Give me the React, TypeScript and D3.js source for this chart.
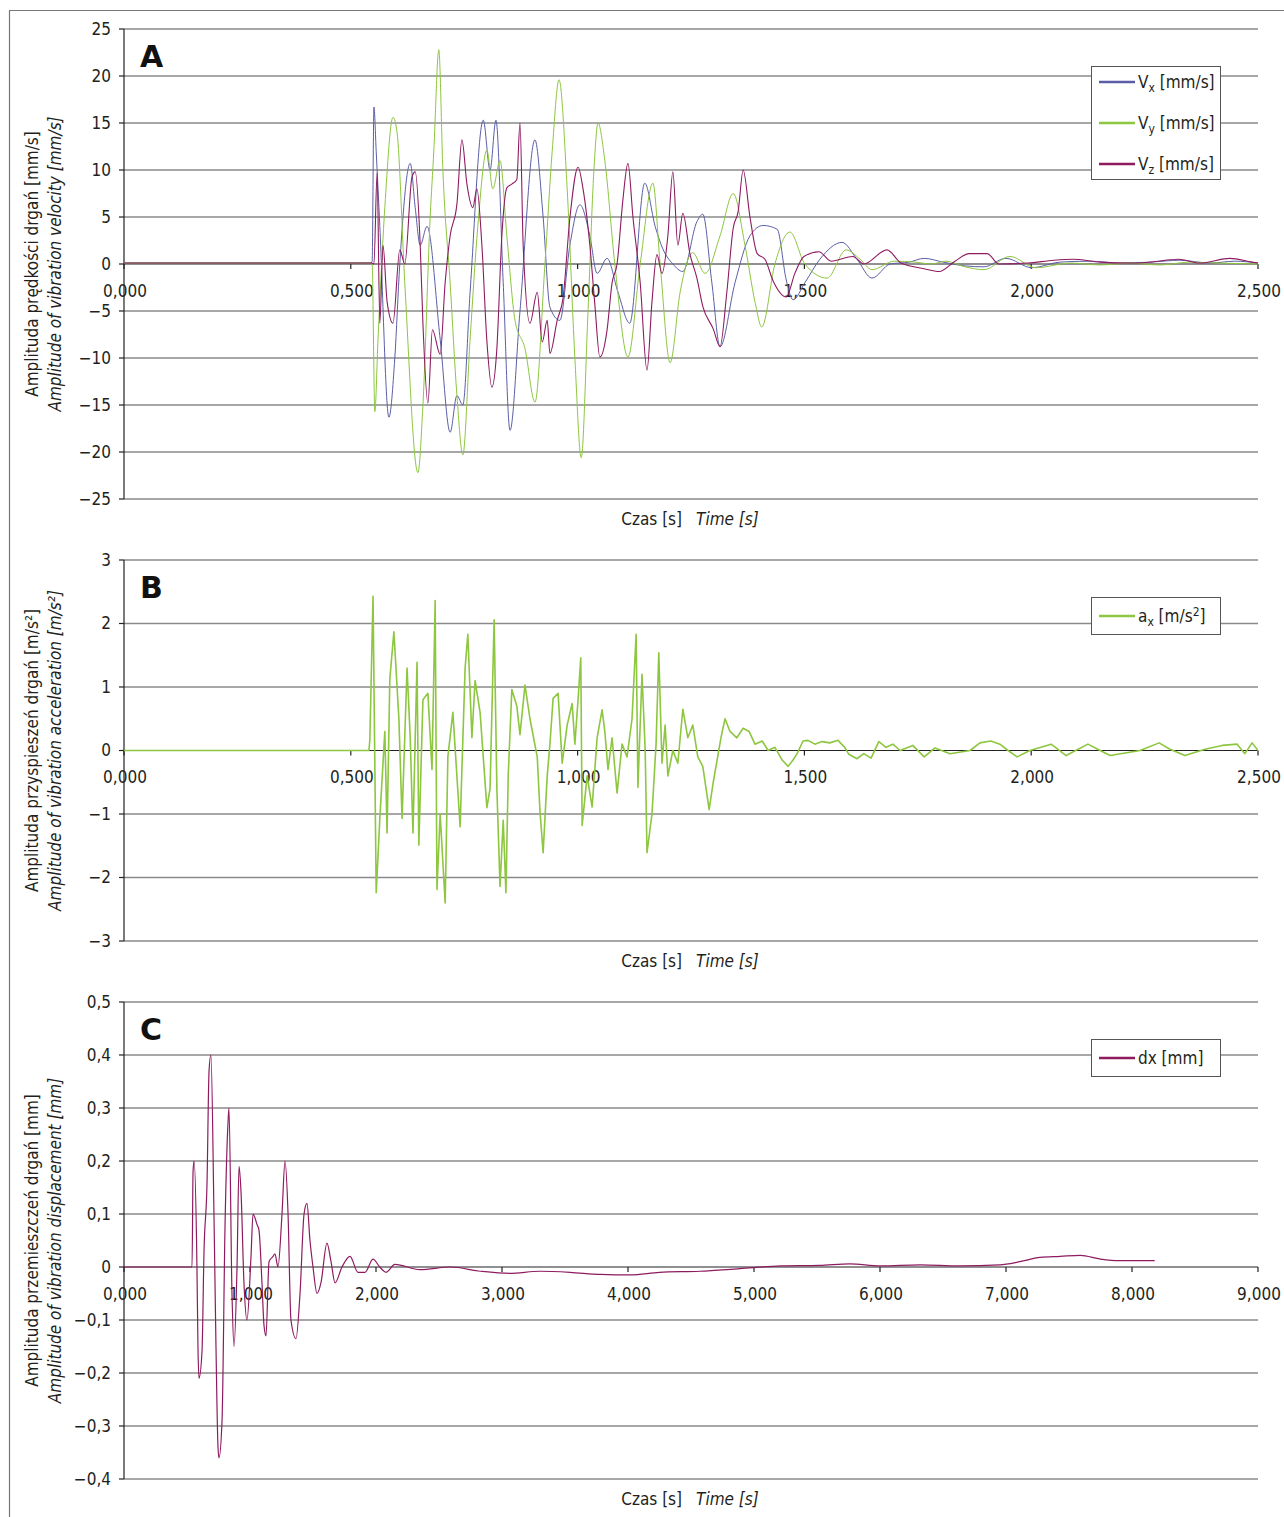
import React from 'react';
import * as d3 from 'd3';

// ---------- DATA ----------
// Panel A: velocity [mm/s], time [s]
const vxTime = [0, 0.54, 0.547, 0.551, 0.556, 0.564, 0.584, 0.597, 0.608, 0.631, 0.642, 0.653, 0.668, 0.697, 0.719, 0.734, 0.747, 0.763, 0.792, 0.807, 0.82, 0.836, 0.851, 0.873, 0.906, 0.924, 0.939, 0.961, 0.983, 1.005, 1.027, 1.043, 1.065, 1.089, 1.115, 1.148, 1.171, 1.188, 1.21, 1.232, 1.263, 1.276, 1.296, 1.314, 1.347, 1.38, 1.409, 1.44, 1.46, 1.475, 1.501, 1.534, 1.583, 1.616, 1.649, 1.689, 1.731, 1.764, 1.806, 1.854, 1.896, 1.944, 2.002, 2.063, 2.13, 2.196, 2.262, 2.328, 2.394, 2.449, 2.5];
const vxValue = [0.1, 0.1, 0.2, 16.7, 12, 4, -16.3, -10, 0, 10.7, 6, 2, 4, -8, -17.9, -14, -15, -3, 15.3, 10, 15.3, -2, -17.7, -5, 13.2, 5, -4.6, -6, 2, 6.3, 3, -1, 0.6, -3, -6.3, 8.6, 4, 1.6, 0, -0.8, 4.5, 5.3, -2, -8.8, -2, 3, 4.1, 3.7, -1.7, -3.8, -2, 0.5, 2.3, 0.5, -1.5, 0, 0.2, 0.6, 0.2, -0.2, -0.3, 0.6, -0.4, 0.2, 0.3, 0.1, 0.2, 0.4, 0.1, 0.3, 0.1];

const vyTime = [0, 0.54, 0.547, 0.553, 0.56, 0.575, 0.593, 0.602, 0.619, 0.648, 0.659, 0.675, 0.683, 0.694, 0.703, 0.719, 0.734, 0.747, 0.763, 0.78, 0.8, 0.813, 0.829, 0.844, 0.862, 0.884, 0.906, 0.928, 0.944, 0.959, 0.977, 0.994, 1.008, 1.023, 1.036, 1.045, 1.06, 1.082, 1.111, 1.138, 1.166, 1.182, 1.204, 1.226, 1.254, 1.281, 1.314, 1.343, 1.369, 1.391, 1.406, 1.435, 1.468, 1.501, 1.55, 1.592, 1.623, 1.649, 1.698, 1.744, 1.779, 1.812, 1.854, 1.896, 1.953, 2.011, 2.086, 2.152, 2.218, 2.284, 2.35, 2.416, 2.5];
const vyValue = [0.1, 0.1, 0, -15.7, -8, 6, 15.6, 14, -2, -22.2, -15, 5, 12, 22.8, 10, -2, -14, -20.3, -8, 4, 12.1, 8, 11, 3, -6, -9, -14.7, 0, 12, 19.6, 8, -10, -20.6, -5, 10, 15, 11, 0, -9.9, 0, 8.6, 0, -10.5, -3, 1.2, -1, 3, 7.5, 2, -4, -6.7, 0, 3.4, 0, -1.5, 1.5, 0.5, -0.6, 0.3, 0.2, 0, 0.3, -0.3, -0.6, 0.8, -0.4, 0.1, -0.1, 0.1, -0.1, 0.2, 0.1, 0];

const vzTime = [0, 0.545, 0.551, 0.558, 0.564, 0.571, 0.58, 0.593, 0.608, 0.619, 0.635, 0.642, 0.653, 0.659, 0.67, 0.68, 0.697, 0.708, 0.719, 0.734, 0.745, 0.756, 0.769, 0.778, 0.789, 0.8, 0.811, 0.822, 0.833, 0.844, 0.855, 0.866, 0.873, 0.88, 0.895, 0.911, 0.922, 0.933, 0.939, 0.955, 0.968, 0.983, 1.001, 1.012, 1.027, 1.038, 1.049, 1.065, 1.076, 1.087, 1.1, 1.111, 1.122, 1.138, 1.153, 1.164, 1.175, 1.186, 1.199, 1.21, 1.221, 1.232, 1.248, 1.263, 1.276, 1.299, 1.314, 1.329, 1.343, 1.354, 1.365, 1.38, 1.396, 1.413, 1.431, 1.46, 1.479, 1.499, 1.532, 1.559, 1.607, 1.631, 1.682, 1.713, 1.764, 1.797, 1.832, 1.863, 1.903, 1.929, 1.993, 2.05, 2.092, 2.152, 2.218, 2.262, 2.324, 2.372, 2.438, 2.487, 2.5];
const vzValue = [0.1, 0.1, 0, 9.7, -6.3, 2, -4, -6.3, 1.5, 0, 9.3, 9.8, 2, -6.3, -14.8, -7, -9.6, -2, 3, 6.4, 13.2, 8.5, 6, 8, 2, -8.2, -13.1, -9, 3, 8.1, 8.5, 9, 15, 2, -6.3, -3, -8.3, -6, -9.5, -6, -3.6, 4.9, 10.3, 8, 2, -4.3, -9.9, -7, -2, 0, 6.9, 10.7, 5, -2, -11.3, -4, 1, -1, 3, 9.8, 2, 5.4, 1, -1.5, -4.5, -6.9, -8.8, -3, 3.8, 5.6, 10, 5, 1.1, 0.5, -1.8, -3.5, -1, 0.8, 1.3, 0.3, 0.8, 0, 1.5, 0.1, -0.5, -0.8, 0.3, 1.1, 1.1, 0, 0.1, 0.4, 0.5, 0.2, 0.1, 0.2, 0.5, 0.1, 0.6, 0.2, 0.1];

// Panel B: acceleration ax [m/s2]
const axTime = [0, 0.54, 0.542, 0.549, 0.556, 0.564, 0.575, 0.58, 0.586, 0.595, 0.606, 0.613, 0.624, 0.631, 0.637, 0.646, 0.65, 0.659, 0.67, 0.679, 0.686, 0.69, 0.697, 0.708, 0.714, 0.725, 0.741, 0.752, 0.758, 0.767, 0.774, 0.785, 0.791, 0.8, 0.807, 0.816, 0.822, 0.829, 0.836, 0.842, 0.847, 0.855, 0.866, 0.873, 0.884, 0.895, 0.911, 0.917, 0.924, 0.933, 0.939, 0.946, 0.957, 0.966, 0.977, 0.988, 0.994, 1.001, 1.007, 1.01, 1.021, 1.032, 1.043, 1.054, 1.06, 1.067, 1.076, 1.087, 1.098, 1.109, 1.12, 1.129, 1.133, 1.142, 1.149, 1.153, 1.164, 1.173, 1.179, 1.186, 1.193, 1.199, 1.21, 1.221, 1.232, 1.243, 1.254, 1.265, 1.276, 1.29, 1.299, 1.31, 1.316, 1.325, 1.336, 1.351, 1.365, 1.378, 1.391, 1.407, 1.42, 1.435, 1.451, 1.464, 1.475, 1.484, 1.497, 1.508, 1.523, 1.539, 1.556, 1.574, 1.589, 1.598, 1.616, 1.631, 1.647, 1.664, 1.68, 1.695, 1.711, 1.739, 1.764, 1.788, 1.821, 1.865, 1.887, 1.911, 1.931, 1.949, 1.969, 1.997, 2.044, 2.077, 2.125, 2.152, 2.174, 2.24, 2.282, 2.306, 2.339, 2.383, 2.421, 2.454, 2.471, 2.487, 2.5];
const axValue = [0, 0, 0.17, 2.43, -2.24, -1.07, 0.3, -1.3, 1.12, 1.87, 0.5, -1.07, 1.3, 0.2, -1.3, 1.39, -1.49, 0.8, 0.9, -0.3, 2.36, -2.19, -1.0, -2.4, -0.1, 0.6, -1.2, 1.3, 1.83, 0.2, 1.1, 0.6, 0, -0.9, -0.6, 2.06, -0.6, -2.14, -1.1, -2.24, -0.4, 0.96, 0.7, 0.25, 1.03, 0.5, -0.1, -0.95, -1.61, -0.4, 0.1, 0.82, 0.9, -0.2, 0.4, 0.74, 0.1, 0.8, 1.46, -1.18, -0.4, -0.89, 0.2, 0.64, 0.3, -0.3, 0.2, -0.67, 0.1, -0.1, 0.5, 1.83, -0.58, 1.2, 0, -1.61, -1.0, 0.1, 1.54, -0.2, 0.4, -0.4, 0, -0.2, 0.65, 0.2, 0.4, -0.1, -0.25, -0.93, -0.5, -0.05, 0.2, 0.5, 0.3, 0.2, 0.35, 0.3, 0.1, 0.15, 0.0, 0.05, -0.15, -0.25, -0.15, -0.05, 0.15, 0.16, 0.1, 0.14, 0.12, 0.16, 0.05, -0.06, -0.13, -0.05, -0.12, 0.14, 0.05, 0.1, 0.0, 0.08, -0.1, 0.04, -0.05, 0.0, 0.12, 0.15, 0.1, 0.0, -0.1, 0.0, 0.1, -0.08, 0.1, 0.0, -0.08, 0.0, 0.12, 0.02, -0.08, 0.02, 0.08, 0.1, -0.05, 0.12, 0.0];

// Panel C: displacement dx [mm]
const dxTime = [0, 0.54, 0.548, 0.556, 0.579, 0.587, 0.595, 0.619, 0.635, 0.659, 0.675, 0.69, 0.714, 0.73, 0.746, 0.754, 0.778, 0.802, 0.825, 0.833, 0.857, 0.873, 0.897, 0.913, 0.929, 0.952, 0.976, 1.008, 1.024, 1.056, 1.071, 1.095, 1.111, 1.127, 1.151, 1.183, 1.198, 1.222, 1.254, 1.278, 1.302, 1.325, 1.365, 1.397, 1.429, 1.452, 1.476, 1.5, 1.532, 1.563, 1.611, 1.643, 1.675, 1.73, 1.794, 1.857, 1.913, 1.976, 2.03, 2.08, 2.15, 2.35, 2.59, 2.83, 3.06, 3.3, 3.54, 3.78, 4.02, 4.25, 4.57, 4.89, 5.21, 5.52, 5.76, 6.0, 6.32, 6.63, 6.95, 7.11, 7.27, 7.43, 7.59, 7.75, 7.9, 8.18];
const dxValue = [0, 0, 0.18, 0.2, 0.0, -0.15, -0.21, -0.16, 0.03, 0.16, 0.37, 0.4, 0.1, -0.15, -0.34, -0.36, -0.29, 0.08, 0.27, 0.3, -0.05, -0.15, 0.0, 0.19, 0.14, -0.03, -0.1, 0.02, 0.1, 0.08, 0.07, -0.03, -0.11, -0.13, 0.01, 0.02, 0.025, 0.0, 0.1, 0.2, 0.1, -0.1, -0.135, -0.05, 0.1, 0.12, 0.05, 0.0, -0.05, -0.03, 0.045, 0.01, -0.03, 0.0, 0.02, -0.01, -0.01, 0.015, 0.0, -0.01, 0.005, -0.005, 0.0, -0.008, -0.012, -0.008, -0.01, -0.014, -0.015, -0.01, -0.008, -0.003, 0.002, 0.003, 0.006, 0.002, 0.004, 0.002, 0.004, 0.01, 0.018, 0.02, 0.022, 0.015, 0.012, 0.012];

// Axis ticks
const xTicksAB = [0, 0.5, 1.0, 1.5, 2.0, 2.5];
const xTicksC = [0, 1, 2, 3, 4, 5, 6, 7, 8, 9];
const yTicksA = [25, 20, 15, 10, 5, 0, -5, -10, -15, -20, -25];
const yTicksB = [3, 2, 1, 0, -1, -2, -3];
const yTicksC = [0.5, 0.4, 0.3, 0.2, 0.1, 0, -0.1, -0.2, -0.3, -0.4];

// ---------- STYLE ----------
const FONT = "'Liberation Sans Narrow','DejaVu Sans Condensed','Roboto Condensed',Arial,sans-serif";
const C_VX = '#5b5ea6';
const C_VY = '#8dc63f';
const C_VZ = '#8e1b60';
const GRID = '#8a8a8a';
const TXT = '#231f20';

const X0 = 124;
const X1 = 1258;

const minus = (s: string) => s.replace('-', '\u2212');
const fmt3 = (v: number) => v.toFixed(3).replace('.', ',');
const fmtInt = (v: number) => minus(String(v));
const fmt1 = (v: number) => (v === 0 ? '0' : minus(v.toFixed(1).replace('.', ',')));

type Series = { t: number[]; v: number[]; color: string; width: number; curve: any };
type LegendItem = { main: string; sub: string; rest: string; sup?: string; close?: string; color: string };

function Panel(props: {
  top: number; bottom: number; yDomain: [number, number]; yTicks: number[]; yFmt: (v: number) => string;
  xDomain: [number, number]; xTicks: number[]; series: Series[]; legend: LegendItem[]; legendTop: number;
  legendH: number; legendRowY: number[]; letter: string; title1: string; title2: string;
}) {
  const { top, bottom, yDomain, yTicks, yFmt, xDomain, xTicks, series, legend, legendTop, legendH, legendRowY, letter, title1, title2 } = props;
  const x = d3.scaleLinear().domain(xDomain).range([X0, X1]);
  const y = d3.scaleLinear().domain(yDomain).range([bottom, top]);
  const zeroY = y(0);
  const midY = (top + bottom) / 2;
  return (
    <g>
      {yTicks.map((t) => (
        <line key={'g' + t} x1={X0} x2={X1} y1={y(t)} y2={y(t)} stroke={t === 0 ? '#222' : GRID} strokeWidth={t === 0 ? 1.2 : 1.6} />
      ))}
      <line x1={X0} x2={X0} y1={top} y2={bottom} stroke="#222" strokeWidth={1.2} />
      {yTicks.map((t) => (
        <g key={'yt' + t}>
          <line x1={X0 - 5} x2={X0} y1={y(t)} y2={y(t)} stroke="#222" strokeWidth={1.2} />
          <text x={111} y={y(t)} dy="0.35em" textAnchor="end" fontSize={17} fill={TXT}>{yFmt(t)}</text>
        </g>
      ))}
      {xTicks.map((t) => (
        <g key={'xt' + t}>
          <line x1={x(t)} x2={x(t)} y1={zeroY} y2={zeroY + 5} stroke="#222" strokeWidth={1.2} />
          <text x={x(t) + 1} y={zeroY + 27} dy="0.35em" textAnchor="middle" fontSize={17} fill={TXT}>{fmt3(t)}</text>
        </g>
      ))}
      {series.map((s, i) => {
        const pts = s.t.map((tt, k) => [tt, s.v[k]] as [number, number]);
        const line = d3.line<[number, number]>().x((d) => x(d[0])).y((d) => y(d[1])).curve(s.curve);
        return <path key={'s' + i} d={line(pts) || ''} fill="none" stroke={s.color} strokeWidth={s.width} strokeLinejoin="round" />;
      })}
      <rect x={1091.5} y={legendTop + 0.5} width={129} height={legendH} fill="#fff" stroke="#555" strokeWidth={1} />
      {legend.map((L, i) => (
        <g key={'l' + i}>
          <line x1={1099} x2={1135} y1={legendRowY[i]} y2={legendRowY[i]} stroke={L.color} strokeWidth={2.5} />
          <text x={1138} y={legendRowY[i]} dy="0.35em" fontSize={17} fill={TXT}>
            {L.main}
            <tspan dy={4} fontSize={12}>{L.sub}</tspan>
            <tspan dy={-4}>{L.rest}</tspan>
            {L.sup ? <tspan dy={-6} fontSize={12}>{L.sup}</tspan> : null}
            {L.close ? <tspan dy={6}>{L.close}</tspan> : null}
          </text>
        </g>
      ))}
      <text x={140} y={top + 38} fontFamily="'DejaVu Sans',sans-serif" fontWeight={900} fontSize={30} fill="#111">{letter}</text>
      <text x={690} y={bottom + 20} dy="0.35em" textAnchor="middle" fontSize={17} fill={TXT}>
        Czas [s]<tspan dx={14} fontStyle="italic">Time [s]</tspan>
      </text>
      <text transform={`translate(32,${midY}) rotate(-90)`} textAnchor="middle" dy="0.35em" fontSize={17} fill={TXT}>{title1}</text>
      <text transform={`translate(55,${midY}) rotate(-90)`} textAnchor="middle" dy="0.35em" fontSize={17} fontStyle="italic" fill={TXT}>{title2}</text>
    </g>
  );
}

export default function App() {
  return (
    <svg width={1284} height={1517} style={{ position: 'absolute', left: 0, top: 0, background: '#fff' }} fontFamily={FONT}>
      <rect x={0} y={0} width={1284} height={1517} fill="#fff" />
      <line x1={9.5} x2={9.5} y1={10} y2={1517} stroke="#777" strokeWidth={1.2} />
      <line x1={9} x2={1284} y1={10.5} y2={10.5} stroke="#777" strokeWidth={1.2} />

      <Panel
        top={29} bottom={499} yDomain={[-25, 25]} yTicks={yTicksA} yFmt={fmtInt}
        xDomain={[0, 2.5]} xTicks={xTicksAB}
        series={[
          { t: vxTime, v: vxValue, color: C_VX, width: 1, curve: d3.curveMonotoneX },
          { t: vyTime, v: vyValue, color: C_VY, width: 1, curve: d3.curveMonotoneX },
          { t: vzTime, v: vzValue, color: C_VZ, width: 1.1, curve: d3.curveMonotoneX },
        ]}
        legend={[
          { main: 'V', sub: 'x', rest: ' [mm/s]', color: C_VX },
          { main: 'V', sub: 'y', rest: ' [mm/s]', color: C_VY },
          { main: 'V', sub: 'z', rest: ' [mm/s]', color: C_VZ },
        ]}
        legendTop={66} legendH={113} legendRowY={[82, 123, 164]}
        letter="A"
        title1="Amplituda prędkości drgań [mm/s]"
        title2="Amplitude of vibration velocity [mm/s]"
      />
      <Panel
        top={560} bottom={941} yDomain={[-3, 3]} yTicks={yTicksB} yFmt={fmtInt}
        xDomain={[0, 2.5]} xTicks={xTicksAB}
        series={[{ t: axTime, v: axValue, color: C_VY, width: 1.6, curve: d3.curveLinear }]}
        legend={[{ main: 'a', sub: 'x', rest: ' [m/s', sup: '2', close: ']', color: C_VY }]}
        legendTop={597} legendH={37} legendRowY={[616]}
        letter="B"
        title1="Amplituda przyspieszeń drgań [m/s²]"
        title2="Amplitude of vibration acceleration [m/s²]"
      />
      <Panel
        top={1002} bottom={1479} yDomain={[-0.4, 0.5]} yTicks={yTicksC} yFmt={fmt1}
        xDomain={[0, 9]} xTicks={xTicksC}
        series={[{ t: dxTime, v: dxValue, color: C_VZ, width: 1.2, curve: d3.curveMonotoneX }]}
        legend={[{ main: 'dx [mm]', sub: '', rest: '', color: C_VZ }]}
        legendTop={1039} legendH={37} legendRowY={[1058]}
        letter="C"
        title1="Amplituda przemieszczeń drgań [mm]"
        title2="Amplitude of vibration displacement [mm]"
      />
    </svg>
  );
}
